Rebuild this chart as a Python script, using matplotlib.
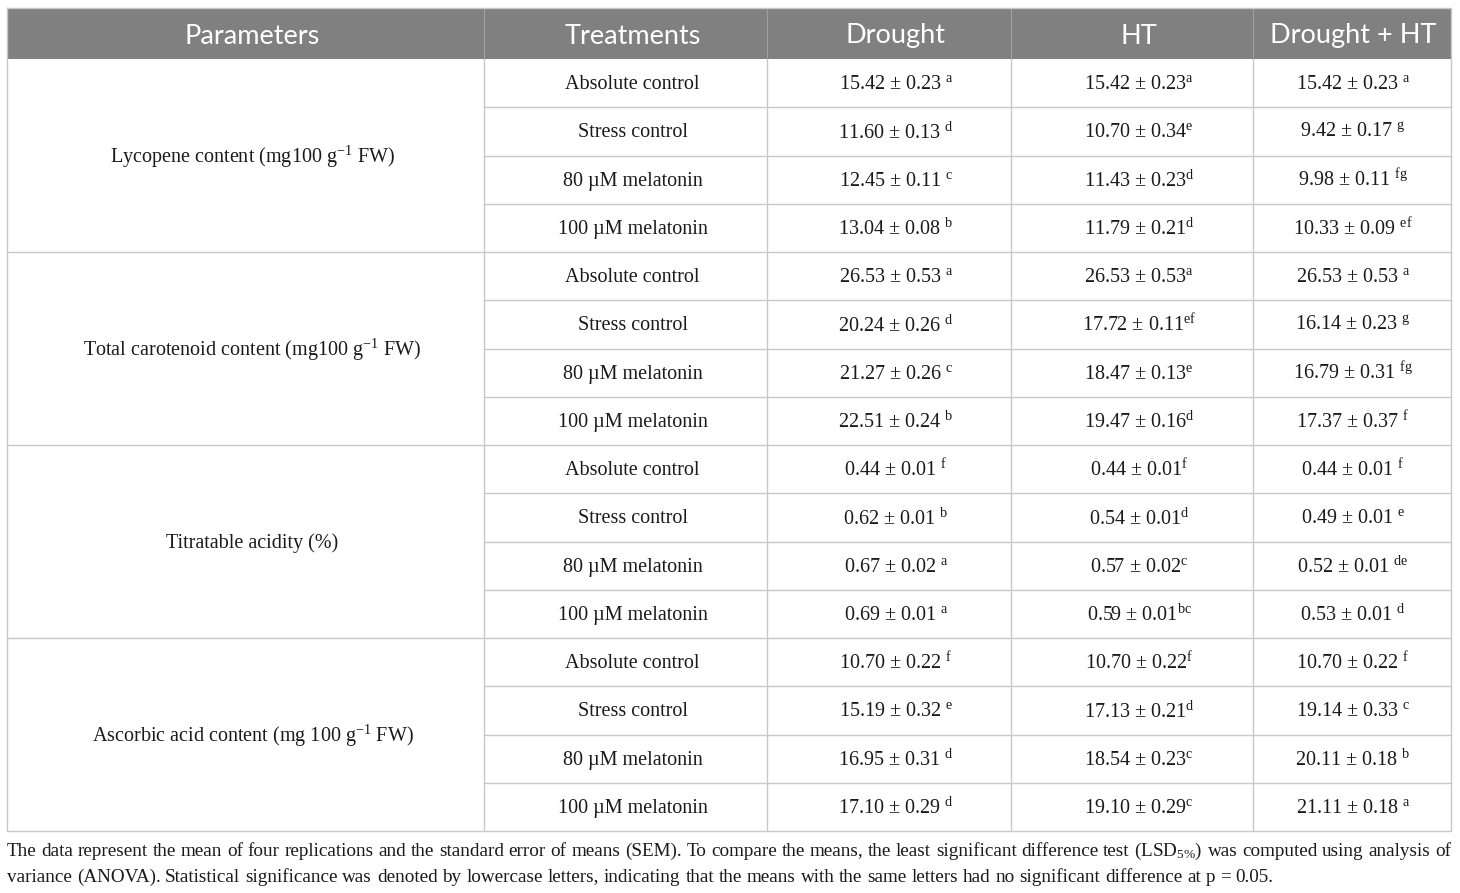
import matplotlib.pyplot as plt

plt.rcParams['mathtext.fontset'] = 'custom'
plt.rcParams['mathtext.rm'] = 'Liberation Serif'
plt.rcParams['mathtext.it'] = 'Liberation Serif:italic'

# Table contents
headers = ["Parameters", "Treatments", "Drought", "HT", "Drought + HT"]
parameters = ["Lycopene content (mg100 g$^{-1}$ FW)",
              "Total carotenoid content (mg100 g$^{-1}$ FW)",
              "Titratable acidity (%)",
              "Ascorbic acid content (mg 100 g$^{-1}$ FW)"]
treatments = ["Absolute control", "Stress control", "80 µM melatonin", "100 µM melatonin"]

drought_mean = ["15.42", "11.60", "12.45", "13.04",
                "26.53", "20.24", "21.27", "22.51",
                "0.44", "0.62", "0.67", "0.69",
                "10.70", "15.19", "16.95", "17.10"]
drought_sem = ["0.23", "0.13", "0.11", "0.08",
               "0.53", "0.26", "0.26", "0.24",
               "0.01", "0.01", "0.02", "0.01",
               "0.22", "0.32", "0.31", "0.29"]
drought_let = ["a", "d", "c", "b", "a", "d", "c", "b",
               "f", "b", "a", "a", "f", "e", "d", "d"]

ht_mean = ["15.42", "10.70", "11.43", "11.79",
           "26.53", "17.72", "18.47", "19.47",
           "0.44", "0.54", "0.57", "0.59",
           "10.70", "17.13", "18.54", "19.10"]
ht_sem = ["0.23", "0.34", "0.23", "0.21",
          "0.53", "0.11", "0.13", "0.16",
          "0.01", "0.01", "0.02", "0.01",
          "0.22", "0.21", "0.23", "0.29"]
ht_let = ["a", "e", "d", "d", "a", "ef", "e", "d",
          "f", "d", "c", "bc", "f", "d", "c", "c"]

dht_mean = ["15.42", "9.42", "9.98", "10.33",
            "26.53", "16.14", "16.79", "17.37",
            "0.44", "0.49", "0.52", "0.53",
            "10.70", "19.14", "20.11", "21.11"]
dht_sem = ["0.23", "0.17", "0.11", "0.09",
           "0.53", "0.23", "0.31", "0.37",
           "0.01", "0.01", "0.01", "0.01",
           "0.22", "0.33", "0.18", "0.18"]
dht_let = ["a", "g", "fg", "ef", "a", "g", "fg", "f",
           "f", "e", "de", "d", "f", "c", "b", "a"]

footnote = ["The data represent the mean of four replications and the standard error of means (SEM). "
            "To compare the means, the least significant difference test (LSD$_{5\\%}$) was computed using analysis of",
            "variance (ANOVA). Statistical significance was denoted by lowercase letters, indicating that the "
            "means with the same letters had no significant difference at p = 0.05."]

# Layout in pixels
W, H = 1460, 893
col_x = [7, 484, 767, 1011, 1253, 1451]
col_shift = [7, 7, 7, 7, 1]   # text sits a little right of cell centre
top, head_bot, bottom = 8, 59, 831
n_rows = 16
row_h = (bottom - head_bot) / n_rows
grid_c = '#c8c8c8'
serif = 'Liberation Serif'
body_fs = 14.5
foot_fs = 13.8
ink = '#1a1a1a'

fig = plt.figure(figsize=(W / 100, H / 100), dpi=100)
ax = fig.add_axes([0, 0, 1, 1])
ax.set_xlim(0, W)
ax.set_ylim(H, 0)
ax.axis('off')


def cx(i):
    return (col_x[i] + col_x[i + 1]) / 2 + col_shift[i]


# header band
ax.fill_between([col_x[0], col_x[-1]], top, head_bot, color='#808080', lw=0)
for i, h in enumerate(headers):
    ax.text(cx(i), (top + head_bot) / 2 + 2.5, h, ha='center', va='center',
            color='white', fontsize=19.5, family='Lato')
for x in col_x[1:-1]:
    ax.plot([x, x], [top, head_bot], color='#a0a0a0', lw=0.8)

# grid lines
ax.plot([col_x[0], col_x[-1], col_x[-1], col_x[0], col_x[0]],
        [top, top, bottom, bottom, top], color=grid_c, lw=1)
for x in col_x[1:-1]:
    ax.plot([x, x], [head_bot, bottom], color=grid_c, lw=1)
for r in range(1, n_rows):
    y = head_bot + r * row_h
    x0 = col_x[0] if r % 4 == 0 else col_x[1]
    ax.plot([x0, col_x[-1]], [y, y], color=grid_c, lw=1)

# parameter labels
for g, p in enumerate(parameters):
    yc = head_bot + (g * 4 + 2) * row_h + 1.5
    ax.text(cx(0), yc, p, ha='center', va='center',
            fontsize=body_fs, family=serif, color=ink)

# rows
cols = [(drought_mean, drought_sem, drought_let, " "),
        (ht_mean, ht_sem, ht_let, ""),
        (dht_mean, dht_sem, dht_let, " ")]
for r in range(n_rows):
    yc = head_bot + (r + 0.5) * row_h + 1.5
    ax.text(cx(1), yc, treatments[r % 4], ha='center',
            va='center', fontsize=body_fs, family=serif, color=ink)
    for c, (m, s, l, sp) in enumerate(cols):
        txt = f"{m[r]} ± {s[r]}{sp}$^{{\\mathrm{{{l[r]}}}}}$"
        ax.text(cx(c + 2), yc, txt, ha='center',
                va='center', fontsize=body_fs, family=serif, color=ink)

# footnote: first line justified to the table width, last line left aligned
renderer = fig.canvas.get_renderer()
for i, line in enumerate(footnote):
    y = 851 + i * 26
    words = line.split(' ')
    arts = [ax.text(0, y, w, ha='left', va='center', fontsize=foot_fs,
                    family=serif, color=ink) for w in words]
    widths = [a.get_window_extent(renderer).width for a in arts]
    if i < len(footnote) - 1:
        gap = (col_x[-1] - col_x[0] - sum(widths)) / (len(words) - 1)
    else:
        gap = foot_fs * 0.25 * 100 / 72
    x = col_x[0]
    for a, w in zip(arts, widths):
        a.set_x(x)
        x += w + gap

fig.savefig('out.png', dpi=100)
